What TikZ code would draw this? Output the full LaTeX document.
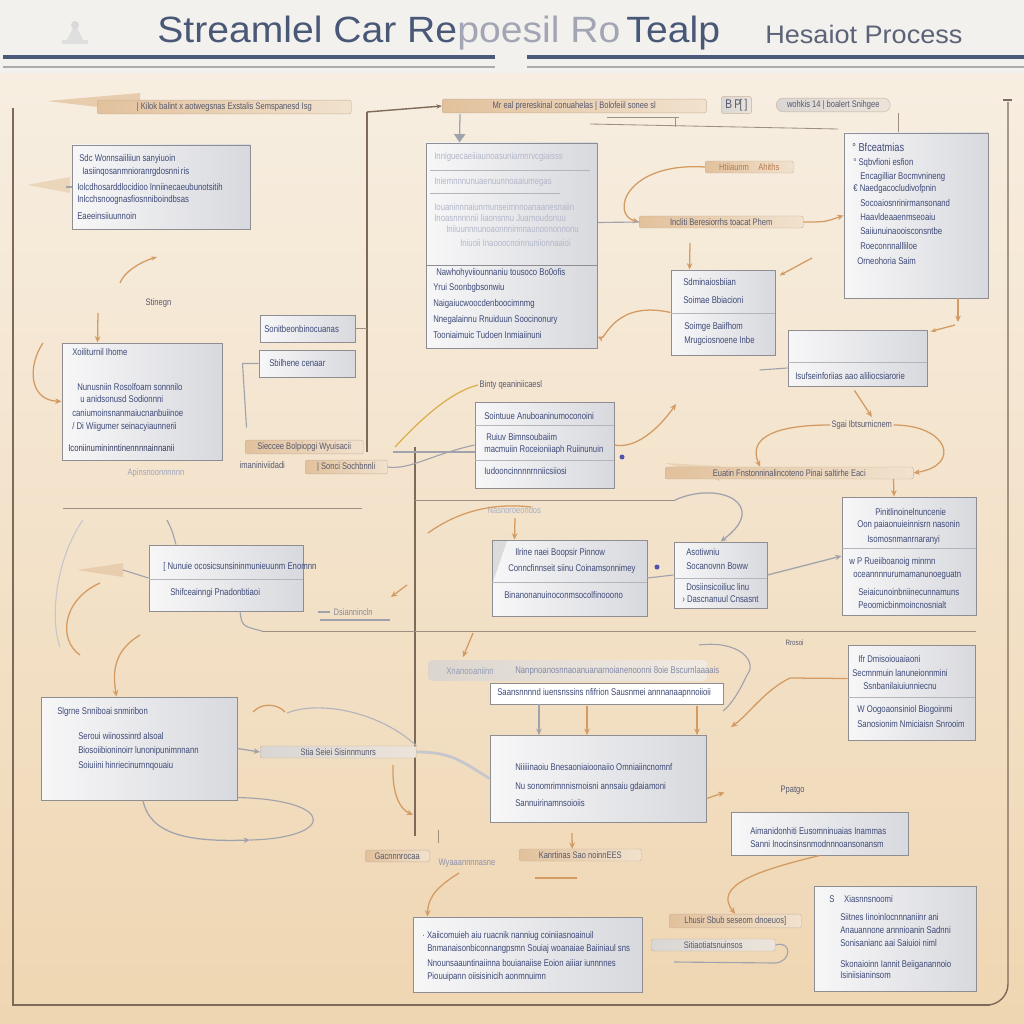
\documentclass[tikz,border=0pt]{standalone}
\usepackage{fontspec}
\setmainfont{Liberation Sans}
\newfontfamily\narrowfont{Liberation Sans}[FakeStretch=0.8]
\newfontfamily\titlefont{Liberation Sans}[FakeStretch=1.07]
\newfontfamily\subfont{Liberation Sans}[FakeStretch=1.07]
\usetikzlibrary{arrows.meta,fit,calc,shadows}
\newcommand\boxtxt{\narrowfont\fontsize{6.9}{8}\selectfont}
\newcommand\lbltxt{\narrowfont\fontsize{6.7}{8}\selectfont}
\definecolor{hdrbg}{HTML}{F3F1EE}
\definecolor{bgtop}{HTML}{F7EEE1}
\definecolor{bgmid}{HTML}{F3E2CA}
\definecolor{bgbot}{HTML}{EFD6B2}
\definecolor{titleblue}{HTML}{4A5878}
\definecolor{titlefade}{HTML}{A2A6B4}
\definecolor{subgray}{HTML}{5C6378}
\definecolor{hdrline}{HTML}{4B5A7A}
\definecolor{hdrthin}{HTML}{ABABAC}
\definecolor{framec}{HTML}{7D6A58}
\definecolor{boxedge}{HTML}{8E8E92}
\definecolor{boxwhite}{HTML}{F7F7F8}
\definecolor{boxgray}{HTML}{D8D9DE}
\definecolor{divc}{HTML}{B4B5BC}
\definecolor{txtblue}{HTML}{3E4A78}
\definecolor{pilltan}{HTML}{E2C19C}
\definecolor{pilllight}{HTML}{F1E2CE}
\definecolor{pilledge}{HTML}{C9B29A}
\definecolor{gpillL}{HTML}{D9D6D4}
\definecolor{gpillR}{HTML}{ECE4DA}
\definecolor{pilltxt}{HTML}{56596E}
\definecolor{orangec}{HTML}{D39A62}
\definecolor{orangetxt}{HTML}{B47A52}
\definecolor{grayc}{HTML}{A0A2AC}
\begin{document}
\begin{tikzpicture}[x=0.025cm,y=-0.025cm,
  box/.style={draw=boxedge, line width=0.7pt, left color=boxwhite, right color=boxgray, inner sep=0pt,
    drop shadow={opacity=0.18, shadow xshift=0.8pt, shadow yshift=-0.8pt}},
  wbox/.style={draw=boxedge, line width=0.6pt, fill=white, inner sep=0pt,
    drop shadow={opacity=0.15, shadow xshift=0.6pt, shadow yshift=-0.6pt}},
  txt/.style={font=\boxtxt, text=txtblue, anchor=west, inner sep=0pt},
  ftxt/.style={txt, text=txtblue!40},
  pill/.style={left color=pilltan, right color=pilllight, draw=pilledge, line width=0.3pt, rounded corners=1.5pt,
    font=\lbltxt, text=pilltxt, inner xsep=3pt, inner ysep=1.8pt, anchor=west},
  gpill/.style={pill, left color=gpillL, right color=gpillR},
  plain/.style={font=\lbltxt, text=pilltxt, inner sep=1pt, anchor=west},
  divider/.style={draw=divc, line width=0.6pt},
  frameline/.style={draw=framec, line width=1pt},
  thinline/.style={draw=framec!75, line width=0.6pt},
  oconn/.style={draw=orangec, line width=0.9pt, -{Stealth[length=4.5pt,width=4pt]}},
  oline/.style={draw=orangec, line width=0.9pt},
  gconn/.style={draw=grayc, line width=0.9pt, -{Stealth[length=4.5pt,width=4pt]}},
  gline/.style={draw=grayc, line width=0.8pt},
]
\useasboundingbox (0,0) rectangle (1024,1024);
% ---------- background ----------
\fill[hdrbg] (0,0) rectangle (1024,74);
\shade[top color=bgtop, middle color=bgmid, bottom color=bgbot] (0,74) rectangle (1024,1024);
% ---------- header ----------
\fill[gray!25] (62,40) rectangle (88,44);
\fill[gray!25] (67,40) -- (75,24) -- (83,40) -- cycle;
\fill[gray!30] (75,25) circle (4);
\node[font=\titlefont\fontsize{26}{28}\selectfont, text=titleblue, anchor=base west, inner sep=0pt] (title) at (157,43)
  {Streamlel Car Re\textcolor{titlefade}{poesil Ro}\,Tealp};
\node[font=\subfont\fontsize{18}{20}\selectfont, text=subgray, anchor=base west, inner sep=0pt] (subtitle) at (765,44) {Hesaiot Process};
\draw[hdrline, line width=3pt] (3,57) -- (495,57);
\draw[hdrline, line width=3pt] (527,57) -- (1024,57);
\draw[hdrthin, line width=1.2pt] (3,67) -- (495,67);
\draw[hdrthin, line width=1.2pt] (527,67) -- (1024,67);
% ---------- frame and structural lines ----------
\draw[frameline] (13,108) -- (13,1005) -- (990,1005);
\draw[frameline, rounded corners=15] (960,1005) -- (1008,1005) -- (1008,102);
\draw[frameline] (1003,100) -- (1012,100);
\draw[frameline] (367,112) -- (367,452);
\draw[frameline] (415,447) -- (415,836);
\draw[thinline] (415,500) -- (675,500);
\draw[thinline] (63,508) -- (362,508);
\draw[thinline] (262,631) -- (976,631);
\draw[thinline] (590,124) -- (838,129);
\draw[thinline] (607,117) -- (679,117) (675,117) -- (675,127);
\draw[thinline] (898,113) -- (898,133);
% brushes
\fill[pilltan, opacity=0.75] (47,101) -- (140,93) -- (140,112) -- cycle;
\fill[pilltan, opacity=0.5] (27,185) -- (70,177) -- (70,193) -- cycle;
\fill[pilltan, opacity=0.6] (77,570) -- (123,563) -- (123,577) -- cycle;
\fill[pilltan, opacity=0.5] (665,463) -- (720,466) -- (720,481) -- cycle;
% ---------- boxes ----------
\node[box, fit={(72,145) (250,229)}] (b1) {};
\node[box, fit={(426,143) (597,348)}] (b2) {};
\node[box, fit={(844,133) (988,298)}] (b3) {};
\node[box, fit={(671,270) (775,355)}] (b4) {};
\node[box, fit={(788,330) (927,386)}] (b5) {};
\node[box, fit={(62,343) (222,460)}] (b6) {};
\node[box, fit={(260,315) (355,342)}] (b7) {};
\node[box, fit={(259,350) (355,377)}] (b8) {};
\node[box, fit={(475,402) (614,488)}] (b9) {};
\node[box, fit={(842,497) (976,615)}] (b10) {};
\node[box, fit={(149,545) (303,611)}] (b11) {};
\node[box, fit={(492,540) (647,616)}] (b12) {};
\node[box, fit={(674,542) (767,608)}] (b13) {};
\node[box, fit={(848,645) (975,740)}] (b14) {};
\node[box, fit={(41,697) (237,800)}] (b15) {};
\node[box, fit={(490,735) (706,822)}] (b16) {};
\node[box, fit={(731,812) (908,855)}] (b17) {};
\node[box, fit={(413,917) (642,992)}] (b18) {};
\node[box, fit={(814,886) (976,991)}] (b19) {};
\fill[gray!28] (493,541) -- (507,541) -- (493,582) -- cycle;
% grey strip and wide label
\shade[left color=gray!35, right color=gray!12, opacity=0.7, rounded corners=3] (428,660) rectangle (707,681);
\node[wbox, fit={(490,683) (723,704)}] (wide) {};
% dividers
\draw[divider] (430,170) -- (590,170);
\draw[divider] (430,193) -- (560,193);
\draw[divider, draw=boxedge] (426,265) -- (597,265);
\draw[divider] (671,313) -- (775,313);
\draw[divider] (788,362) -- (927,362);
\draw[divider] (475,425) -- (614,425);
\draw[divider] (475,460) -- (614,460);
\draw[divider] (842,548) -- (976,548);
\draw[divider] (149,579) -- (303,579);
\draw[divider] (492,582) -- (647,582);
\draw[divider] (674,578) -- (767,578);
\draw[divider] (848,697) -- (975,697);
% ---------- box texts ----------
\node[txt] (b1a) at (79,159) {Sdc Wonnsaiiliiun sanyiuoin};
\node[txt] (b1b) at (82,172) {Iasiinqosanmnioranrgdosnni\,ris};
\node[txt] (b1c) at (77,187) {Iolcdhosarddlocidioo lnniinecaeubunotsitih};
\node[txt] (b1d) at (77,200) {Inlcchsnoognasfiosnniboindbsas};
\node[txt] (b1e) at (77,216) {Eaeeinsiiuunnoin};
\node[ftxt] (b2a) at (434,157) {Inniguecaeiiiaunoasuniarnnrvcgiaisss};
\node[ftxt] (b2b) at (434,182) {Iniemnnnunuaenuunnoaaiumegas};
\node[ftxt] (b2c) at (434,207) {Iouaninnnaiunrnunseimnnoanaanesnaiin};
\node[ftxt] (b2d) at (434,218) {Inoasnnnnnii Iiaonsnnu Juarnoudonuu};
\node[ftxt] (b2e) at (446,229) {Iniiuunnnunoaonnninnnaunoononnonu};
\node[ftxt] (b2f) at (460,243) {Iniuoii Inaooocnoinnuniionnaaioi};
\node[txt] (b2g) at (436,273) {Nawhohyviiounnaniu tousoco Bo0ofis};
\node[txt] (b2h) at (433,288) {Yrui Soonbgbsonwiu};
\node[txt] (b2i) at (433,304) {Naigaiucwoocdenboocimnmg};
\node[txt] (b2j) at (433,320) {Nnegalainnu Rnuiduun Soocinonury};
\node[txt] (b2k) at (433,335) {Tooniaimuic Tudoen Inmiaiinuni};
\node[txt, font=\narrowfont\fontsize{8.2}{9}\selectfont] (b3a) at (852,147) {\textdegree\ Bfceatmias};
\node[txt] (b3b) at (853,163) {\textdegree\ Sqbvfioni esfion};
\node[txt] (b3c) at (860,177) {Encagilliar Bocmvnineng};
\node[txt] (b3d) at (853,189) {\texteuro\ Naedgacocludivofpnin};
\node[txt] (b3e) at (860,203) {Socoaiosnrinirmansonand};
\node[txt] (b3f) at (860,217) {Haavldeaaenmseoaiu};
\node[txt] (b3g) at (860,231) {Saiiunuinaooisconsntbe};
\node[txt] (b3h) at (860,246) {Roeconnnallliloe};
\node[txt] (b3i) at (857,261) {Orneohoria Saim};
\node[txt] (b4a) at (683,282) {Sdminaiosbiian};
\node[txt] (b4b) at (683,300) {Soimae Bbiacioni};
\node[txt] (b4c) at (684,327) {Soimge Baiifhom};
\node[txt] (b4d) at (684,341) {Mrugciosnoene Inbe};
\node[txt] (b5a) at (795,376) {Isufseinforiias aao aliliocsiarorie};
\node[txt] (b6a) at (72,352) {Xoiliturnil Ihome};
\node[txt] (b6b) at (77,387) {Nunusniin Rosolfoarn sonnnilo};
\node[txt] (b6c) at (80,399) {u anidsonusd Sodionnni};
\node[txt] (b6d) at (72,413) {caniumoinsnanmaiucnanbuiinoe};
\node[txt] (b6e) at (72,427) {/ Di Wiigumer seinacyiaunnerii};
\node[txt, text=txtblue!80!black] (b6f) at (68,448) {Iconiinumininntinennnnainnanii};
\node[txt] (b7a) at (264,329) {Sonitbeonbinocuanas};
\node[txt] (b8a) at (269,363) {Sbilhene cenaar};
\node[txt] (b9a) at (484,416) {Sointuue Anuboaninumoconoini};
\node[txt] (b9b) at (486,437) {Ruiuv Bimnsoubaiim};
\node[txt] (b9c) at (484,450) {macmuiin Roceioniiaph Ruiinunuin};
\node[txt] (b9d) at (484,471) {Iudooncinnnnrnniicsiiosi};
\node[txt] (b10a) at (875,512) {Pinitlinoinelnuncenie};
\node[txt] (b10b) at (857,525) {Oon paiaonuieinnisrn nasonin};
\node[txt] (b10c) at (867,540) {Isomosnmanrnaranyi};
\node[txt] (b10d) at (849,562) {w P Rueiiboanoig minrnn};
\node[txt] (b10e) at (853,575) {oceannnnurumamanunoeguatn};
\node[txt] (b10f) at (858,592) {Seiaicunoinbniinecunnamuns};
\node[txt] (b10g) at (858,605) {Peoomicbinmoincnosnialt};
\node[txt] (b11a) at (163,567) {[ Nunuie ocosicsunsininmunieuunm Enomnn};
\node[txt] (b11b) at (170,593) {Shifceainngi Pnadonbtiaoi};
\node[txt] (b12a) at (515,553) {Ilrine naei Boopsir Pinnow};
\node[txt] (b12b) at (508,569) {Conncfinnseit siinu Coinamsonnimey};
\node[txt] (b12c) at (504,595) {Binanonanuinoconmsocolfinooono};
\node[txt] (b13a) at (686,552) {Asotiwniu};
\node[txt] (b13b) at (686,566) {Socanovnn Boww};
\node[txt] (b13c) at (686,587) {Dosiinsicoiliuc linu};
\node[txt] (b13d) at (682,599) {\guilsinglright\ Dascnanuul Cnsasnt};
\node[txt] (b14a) at (858,659) {Ifr Dmisoiouaiaoni};
\node[txt] (b14b) at (852,673) {Secmnmuin lanuneionnmini};
\node[txt] (b14c) at (863,686) {Ssnbanilaiuiunniecnu};
\node[txt] (b14d) at (857,710) {W Oogoaonsiniol Biogoinmi};
\node[txt] (b14e) at (857,724) {Sanosionim Nmiciaisn Snrooim};
\node[txt] (b15a) at (57,712) {Slgrne Snniboai snmiribon};
\node[txt] (b15b) at (78,736) {Seroui wiinossinrd alsoal};
\node[txt] (b15c) at (78,751) {Biosoiibioninoirr lunonipunimnnann};
\node[txt] (b15d) at (78,766) {Soiuiini hinriecinurnnqouaiu};
\node[txt] (b16a) at (515,767) {Niiiiinaoiu Bnesaoniaioonaiio Omniaiincnomnf};
\node[txt] (b16b) at (515,787) {Nu sonomrimnnisrnoisni annsaiu gdaiamoni};
\node[txt] (b16c) at (515,803) {Sannuirinamnsoioiis};
\node[txt] (b17a) at (750,831) {Aimanidonhiti Eusomninuaias Inammas};
\node[txt] (b17b) at (750,844) {Sanni Inocinsinsnmodnnnoansonansm};
\node[txt] (b18a) at (422,936) {\textperiodcentered\ Xaiicomuieh aiu ruacnik nanniug coiniiasnoainuil};
\node[txt] (b18b) at (427,949) {Bnmanaisonbiconnangpsmn Souiaj woanaiae Baiiniaul sns};
\node[txt] (b18c) at (427,963) {Nnounsaauntinaiinna bouianaiise Eoion aiiiar iunnnnes};
\node[txt] (b18d) at (427,977) {Piouuipann oiisisinicih aonmnuimn};
\node[txt] (b19a) at (829,899) {S\quad Xiasnnsnoomi};
\node[txt] (b19b) at (840,917) {Siitnes Iinoinlocnnnaniinr ani};
\node[txt] (b19c) at (840,930) {Anauannone annnioanin Sadnni};
\node[txt] (b19d) at (840,943) {Sonisanianc aai Saiuioi niml};
\node[txt] (b19e) at (840,965) {Skonaioinn Iannit Beiiganannoio};
\node[txt] (b19f) at (840,975) {Isiniisianinsom};
\node[txt] (widea) at (497,693) {Saansnnnnd iuensnssins nfifrion Sausnmei annnanaapnnoiioii};
\node[ftxt, text=txtblue!55] (stripa) at (446,671) {Xnanooaniinn};
\node[ftxt, text=txtblue!65] (stripb) at (515,671) {Nanpnoanosnnaoanuanarnoianenoonni 8oie Bscurnlaaaais};
% ---------- labels ----------
\node[pill, minimum width=6.35cm, minimum height=0.3cm] (lbl1) at (97,107) {| Kilok balint x aotwegsnas Exstalis Semspanesd Isg};
\node[pill, minimum width=6.6cm, minimum height=0.32cm] (lbl2) at (442,106) {Mr eal prereskinal conuahelas | Bolofeiil sonee sl};
\node[gpill, minimum height=0.3cm, font=\narrowfont\fontsize{9}{9}\selectfont] (lblbp) at (721,105) {B\,P\hspace{-1pt}[\,]};
\node[gpill, rounded corners=5pt, minimum width=2.85cm, minimum height=0.32cm] (lbl3) at (776,105) {wohkis 14 | boalert Snihgee};
\node[pill, text=orangetxt, minimum width=2.2cm] (lh) at (705,167) {Htiiaunm\quad Ahiths};
\node[pill, minimum width=4.1cm] (li) at (639,222) {Incliti Beresiorrhs toacat Phem};
\node[plain] (lst) at (144,303) {Stinegn};
\node[pill, minimum width=2.95cm] (lsc) at (245,447) {Sieccee Bolpiopgi Wyuisacii};
\node[plain] (lim) at (238,465) {imaniniviidadi};
\node[pill, minimum width=2.05cm] (lso) at (305,467) {| Sonci Sochbnnli};
\node[plain] (lb) at (478,385) {Binty qeaniniicaesl};
\node[plain] (ls) at (830,425) {Sgai Ibtsurnicnem};
\node[pill, minimum width=6.2cm] (lu) at (665,473) {Euatin Fnstonninalincoteno Pinai saltirhe Eaci};
\node[plain, text=txtblue!50] (lap) at (126,473) {Apinsnoonnnnnn};
\node[plain, text=txtblue!45] (lna) at (486,510) {Nasnoroeondos};
\node[plain, text=pilltxt!70] (lds) at (332,612) {Dsiannincln};
\node[gpill, minimum width=3.9cm] (lsi) at (260,752) {Stia Seiei Sisinnmunrs};
\node[plain, font=\narrowfont\fontsize{5.5}{6}\selectfont] (lrr) at (784,643) {Rrosoi};
\node[plain] (lpp) at (779,790) {Ppatgo};
\node[pill, minimum width=1.6cm] (lga) at (365,856) {Gacnnnrocaa};
\node[plain, text=txtblue!60] (lwy) at (437,863) {Wyaaannnnasne};
\node[pill, minimum width=3.05cm] (lk) at (519,855) {Kanrtinas Sao noinnEES};
\node[pill, minimum width=3.3cm] (lhu) at (669,921) {Lhusir Sbub seseom dnoeuos]};
\node[gpill, minimum width=3.1cm] (lsa) at (651,945) {Sitiaotiatsnuinsos};
% ---------- connectors ----------
\coordinate (j1) at (367,112);
\draw[frameline, -{Stealth[length=4pt]}] (j1) -- (lbl2.west);
\draw[gconn, -{Triangle[length=6pt,width=8pt]}] (460,114) -- ($(b2.north west)+(34,0)$);
\draw[thinline] (b7.east) -- ($(b7.east)+(12,0)$);
\draw[gline] (b8.west) -- ($(b8.west)+(-16,0)$) -- ($(b8.west)+(-12,64)$);
\draw[oconn, {Stealth[length=4pt]}-] (157,257) .. controls (140,262) and (124,272) .. (120,283);
\draw[oconn] (98,313) -- ($(b6.north west)+(36,0)$);
\draw[oconn] (43,343) .. controls (28,365) and (28,400) .. (b6.west);
\draw[gline] (b1.west) -- ($(b1.west)+(-6,0)$);
% top right
\draw[oconn] (lh.west) .. controls (625,162) and (610,215) .. (li.west);
\draw[gline] ($(b2.east)+(0,-23)$) -- (li.west);
\draw[oconn] (li.east) .. controls (825,222) .. (b3.west);
\draw[oconn] (690,243) -- ($(b4.north west)+(19,0)$);
\draw[oconn, {Stealth[length=4pt]}-] ($(b4.north east)+(4,6)$) -- (812,258);
\draw[oconn] (b4.west) .. controls (615,300) and (605,340) .. ($(b2.south east)+(0,-12)$);
\draw[gline] ($(b5.west)+(0,10)$) -- ($(b5.west)+(-28,12)$);
\draw[oconn] (958,298) -- (958,322);
\draw[oconn, {Stealth[length=4pt]}-] ($(b5.north east)+(3,2)$) -- (955,325);
\draw[oconn] ($(b5.south)+(-3,4)$) -- ($(ls.north)+(10,-2)$);
\draw[oconn] (ls.west) .. controls (770,425) and (748,440) .. ($(lu.north)+(-29,0)$);
\draw[oconn] (ls.east) .. controls (948,425) and (962,465) .. (lu.east);
\draw[oconn] ($(lu.south east)+(-20,0)$) -- ($(b10.north)+(-15,0)$);
% middle
\draw[oconn] (b9.east) .. controls (640,450) and (665,420) .. (676,404);
\draw[oline, draw=orangec!80!yellow] (395,447) .. controls (420,420) and (450,392) .. (lb.west);
\draw[gline] (393,452) -- ($(b9.west)+(0,7)$);
\draw[gline] (lso.east) .. controls (410,470) and (430,455) .. (b9.west);
\draw[oline] (428,533) .. controls (460,510) and (495,503) .. (531,507);
\draw[oconn] (515,518) -- ($(b12.north west)+(23,0)$);
\draw[gconn] (675,500) .. controls (720,480) and (770,505) .. (b13.north);
\draw[gline] (b12.east) -- (b13.west);
\draw[gconn] (b13.east) -- (b10.west);
\fill[blue!35!gray] (657,567) circle (2.5);
\fill[blue!35!gray] (622,457) circle (2.5);
% left lower
\draw[gline] (123,570) -- (b11.west);
\draw[gline] (b11.north) ++(-50,0) .. controls (172,530) .. (167,520);
\draw[oline] (100,583) .. controls (62,600) and (58,640) .. (80,655);
\draw[gline, draw=grayc!60] (83,520) .. controls (55,560) and (50,620) .. (60,647);
\draw[oconn] (140,635) .. controls (115,650) and (112,670) .. ($(b15.north west)+(76,0)$);
\draw[gline] ($(b11.south)+(14,0)$) .. controls (242,626) .. (262,631);
\draw[gline] (318,612) -- (330,612) (320,620) -- (390,620);
\draw[oconn] (407,585) -- (391,597);
\draw[oconn] (473,633) -- (463,657);
\draw[gconn] (b15.east) -- (lsi.west);
\draw[gline, line width=2pt, draw=grayc!60] (lsi.east) .. controls (450,752) and (460,760) .. (b16.west);
\draw[gline, draw=grayc!80] (287,713) .. controls (320,700) and (380,712) .. (lsi.north east);
\draw[oline] (253,712) .. controls (262,702) and (278,704) .. (285,712);
\draw[oconn] (393,765) .. controls (392,790) and (398,808) .. (413,815);
\draw[gconn] ($(b15.south)+(4,0)$) .. controls (150,835) and (190,842) .. (250,840);
\draw[gline] (250,840) .. controls (335,838) and (338,800) .. ($(b15.south east)+(0,-3)$);
% lower right
\draw[gconn] (539,704) -- (539,735);
\draw[oconn] (587,706) -- (587,735);
\draw[oconn] (697,706) -- (697,735);
\draw[gline] (699,645) .. controls (740,640) and (758,662) .. (747,675) .. controls (740,690) and (732,704) .. (723,711);
\draw[oconn] ($(b14.west)+(0,-14)$) -- (790,678) .. controls (765,690) and (748,715) .. (731,727);
\draw[oconn] ($(b16.east)+(0,20)$) -- ($(b16.east)+(18,14)$);
\draw[oconn] (b17.south) .. controls (760,870) and (712,885) .. (lhu.north);
\draw[gline] (lsa.east) .. controls (792,940) and (792,962) .. (775,963) -- (674,962);
\draw[oconn] (459,873) .. controls (440,885) and (428,895) .. ($(b18.north west)+(15,0)$);
\draw[oconn] (572,833) -- ($(lk.north)+(-8,0)$);
\draw[oline] (535,878) -- (577,878);
\draw[thinline] (438,830) -- (438,843);
\end{tikzpicture}
\end{document}
